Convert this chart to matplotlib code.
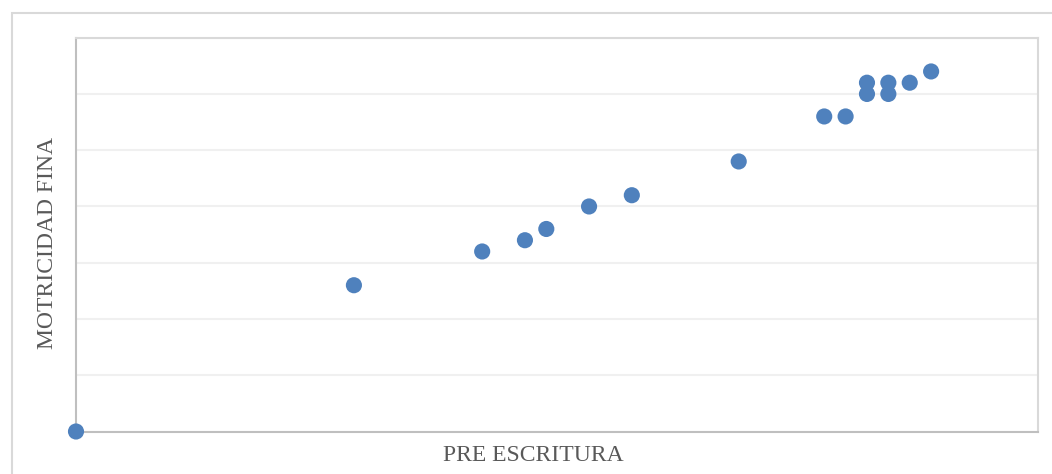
#!/usr/bin/env python3
import numpy as np
from matplotlib import pyplot as plt
from matplotlib.patches import Rectangle

# PRE ESCRITURA vs MOTRICIDAD FINA
pre_escritura = [0, 13, 19, 21, 22, 24, 26, 31, 35, 36, 37, 37, 38, 38, 39, 40]
motricidad_fina = [0, 26, 32, 34, 36, 40, 42, 48, 56, 56, 60, 62, 60, 62, 62, 64]

W, H = 1052, 474
fig = plt.figure(figsize=(W / 100, H / 100), dpi=100)

# outer chart border
fig.patches.append(Rectangle((12 / W, -0.1), 1.2, (H - 13) / H + 0.1,
                             transform=fig.transFigure, fill=False,
                             edgecolor='#D9D9D9', linewidth=1.5))

ax = fig.add_axes([76 / W, 42.5 / H, 962 / W, 393.8 / H])
ax.scatter(pre_escritura, motricidad_fina, s=135, color='#4F81BD',
           edgecolors='none', zorder=3, clip_on=False)

ax.set_xlim(0, 45)
ax.set_ylim(0, 70)
ax.set_yticks(np.arange(0, 71, 10))
ax.set_xticks([])
ax.tick_params(left=False, labelleft=False)
ax.grid(axis='y', color='#F0F0F0', linewidth=1.5)
ax.set_axisbelow(True)

for side in ['left', 'bottom']:
    ax.spines[side].set_color('#BFBFBF')
    ax.spines[side].set_linewidth(1.5)
for side in ['top', 'right']:
    ax.spines[side].set_color('#D9D9D9')
    ax.spines[side].set_linewidth(1.5)

font = dict(family='Liberation Serif', size=17, color='#595959')
ax.set_xlabel('PRE ESCRITURA', va='center', **font)
ax.set_ylabel('MOTRICIDAD FINA', va='center', **font)
ax.xaxis.set_label_coords(0.475, -0.06)
ax.yaxis.set_label_coords(-0.030, 0.479)

fig.savefig('out.png', dpi=100)
